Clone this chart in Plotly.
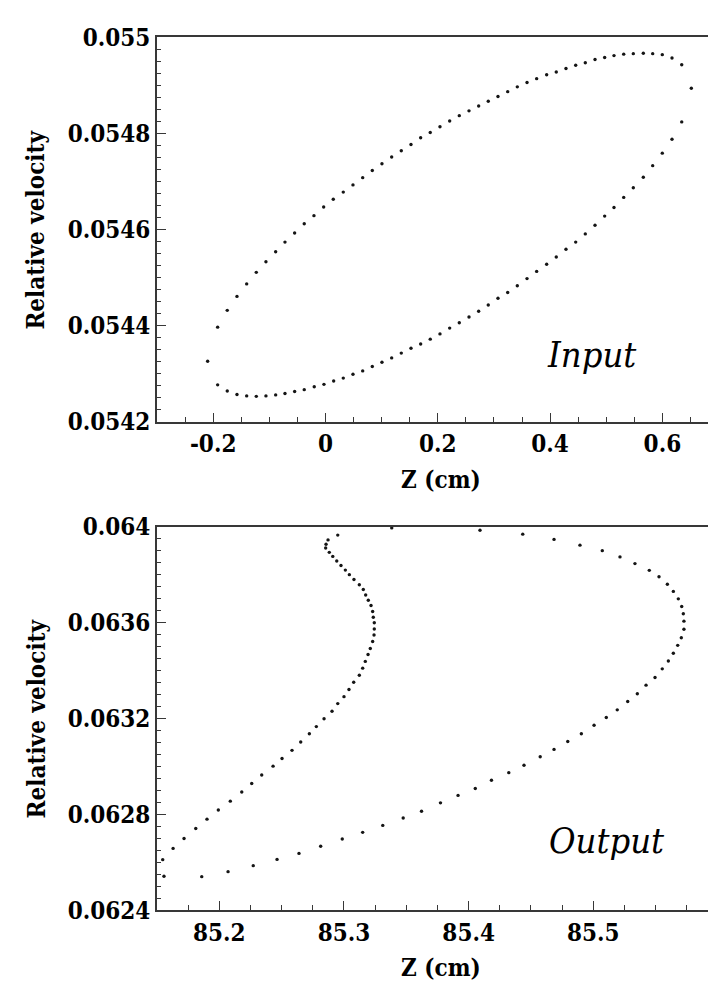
import plotly.graph_objects as go

# ---------------- data ----------------
z_in_upper = [-0.1920, -0.1749, -0.1576, -0.1403, -0.1232, -0.1060, -0.0887, -0.0721, -0.0549, -0.0378,
              -0.0205, -0.0032, 0.0139, 0.0317, 0.0490, 0.0663, 0.0834, 0.1006, 0.1179, 0.1350,
              0.1523, 0.1695, 0.1866, 0.2039, 0.2212, 0.2383, 0.2556, 0.2728, 0.2899, 0.3072,
              0.3245, 0.3416, 0.3589, 0.3761, 0.3939, 0.4110, 0.4283, 0.4456, 0.4627, 0.4800,
              0.4972, 0.5138, 0.5311, 0.5482, 0.5660, 0.5827, 0.5998, 0.6171, 0.6344, 0.6515]
v_in_upper = [0.054397, 0.054432, 0.054461, 0.054487, 0.054511, 0.054533, 0.054554, 0.054574, 0.054593, 0.054612,
              0.054629, 0.054647, 0.054663, 0.054678, 0.054693, 0.054708, 0.054723, 0.054737, 0.054751, 0.054764,
              0.054777, 0.054791, 0.054802, 0.054814, 0.054826, 0.054837, 0.054847, 0.054857, 0.054867, 0.054877,
              0.054887, 0.054897, 0.054906, 0.054914, 0.054922, 0.054928, 0.054935, 0.054942, 0.054947, 0.054954,
              0.054958, 0.054962, 0.054965, 0.054966, 0.054967, 0.054966, 0.054964, 0.054957, 0.054943, 0.054894]
z_in_lower = [0.6344, 0.6171, 0.5998, 0.5827, 0.5660, 0.5482, 0.5311, 0.5138, 0.4972, 0.4800,
              0.4627, 0.4456, 0.4283, 0.4110, 0.3939, 0.3761, 0.3589, 0.3416, 0.3245, 0.3072,
              0.2899, 0.2728, 0.2556, 0.2383, 0.2212, 0.2039, 0.1866, 0.1695, 0.1523, 0.1350,
              0.1179, 0.1006, 0.0834, 0.0663, 0.0490, 0.0317, 0.0146, -0.0027, -0.0200, -0.0378,
              -0.0549, -0.0721, -0.0887, -0.1060, -0.1232, -0.1403, -0.1576, -0.1749, -0.1920, -0.2098]
v_in_lower = [0.054824, 0.054788, 0.054759, 0.054733, 0.054709, 0.054687, 0.054667, 0.054646, 0.054628, 0.054609,
              0.054591, 0.054574, 0.054559, 0.054543, 0.054528, 0.054513, 0.054498, 0.054483, 0.054469, 0.054457,
              0.054443, 0.054430, 0.054418, 0.054406, 0.054395, 0.054383, 0.054372, 0.054362, 0.054353, 0.054343,
              0.054333, 0.054324, 0.054315, 0.054306, 0.054299, 0.054291, 0.054285, 0.054278, 0.054273, 0.054267,
              0.054263, 0.054259, 0.054256, 0.054254, 0.054253, 0.054254, 0.054257, 0.054264, 0.054277, 0.054326]

z_out_left = [85.2950, 85.2872, 85.2856, 85.2853, 85.2882, 85.2910, 85.2942, 85.2976, 85.3011, 85.3043,
              85.3080, 85.3123, 85.3155, 85.3174, 85.3195, 85.3217, 85.3230, 85.3235, 85.3243, 85.3243,
              85.3241, 85.3230, 85.3211, 85.3193, 85.3171, 85.3150, 85.3123, 85.3078, 85.3040, 85.3000,
              85.2950, 85.2904, 85.2840, 85.2778, 85.2722, 85.2653, 85.2583, 85.2503, 85.2431, 85.2340,
              85.2260, 85.2180, 85.2088, 85.1992, 85.1901, 85.1811, 85.1717, 85.1629, 85.1546, 85.1556]
v_out_left = [0.063965, 0.063945, 0.063927, 0.063911, 0.063893, 0.063876, 0.063857, 0.063838, 0.063819, 0.063800,
              0.063780, 0.063758, 0.063738, 0.063715, 0.063693, 0.063671, 0.063646, 0.063622, 0.063599, 0.063573,
              0.063548, 0.063521, 0.063492, 0.063467, 0.063438, 0.063410, 0.063380, 0.063351, 0.063321, 0.063291,
              0.063262, 0.063230, 0.063199, 0.063166, 0.063136, 0.063102, 0.063067, 0.063033, 0.063001, 0.062964,
              0.062929, 0.062893, 0.062855, 0.062818, 0.062780, 0.062741, 0.062699, 0.062658, 0.062611, 0.062542]
z_out_lower = [85.1859, 85.2070, 85.2272, 85.2463, 85.2639, 85.2813, 85.2986, 85.3150, 85.3311, 85.3475,
               85.3622, 85.3774, 85.3915, 85.4053, 85.4183, 85.4322, 85.4444, 85.4574, 85.4685, 85.4795,
               85.4904, 85.5006, 85.5104, 85.5192, 85.5276]
v_out_lower = [0.062540, 0.062561, 0.062586, 0.062612, 0.062637, 0.062667, 0.062697, 0.062725, 0.062754, 0.062785,
               0.062813, 0.062848, 0.062879, 0.062908, 0.062942, 0.062974, 0.063005, 0.063040, 0.063071, 0.063104,
               0.063136, 0.063172, 0.063204, 0.063236, 0.063271]
z_out_right = [85.5353, 85.5423, 85.5495, 85.5553, 85.5602, 85.5642, 85.5677, 85.5706, 85.5727, 85.5727,
               85.5722, 85.5709, 85.5682, 85.5642, 85.5594, 85.5527, 85.5449, 85.5334, 85.5214, 85.5072,
               85.4893, 85.4685, 85.4434, 85.4091, 85.3383]
v_out_right = [0.063303, 0.063339, 0.063371, 0.063407, 0.063440, 0.063472, 0.063505, 0.063537, 0.063572, 0.063606,
               0.063637, 0.063667, 0.063699, 0.063730, 0.063760, 0.063791, 0.063818, 0.063846, 0.063874, 0.063900,
               0.063923, 0.063947, 0.063969, 0.063985, 0.063995]

in_xticks = [-0.2, 0.0, 0.2, 0.4, 0.6]
in_xlabels = ["-0.2", "0", "0.2", "0.4", "0.6"]
in_yticks = [0.0542, 0.0544, 0.0546, 0.0548, 0.0550]
in_ylabels = ["0.0542", "0.0544", "0.0546", "0.0548", "0.055"]
out_xticks = [85.2, 85.3, 85.4, 85.5]
out_xlabels = ["85.2", "85.3", "85.4", "85.5"]
out_yticks = [0.0624, 0.0628, 0.0632, 0.0636, 0.0640]
out_ylabels = ["0.0624", "0.0628", "0.0632", "0.0636", "0.064"]

W, H = 708, 999
L, R = 157, 708
T1, B1 = 23, 419
T2, B2 = 527, 922


def fx(px):
    return px / W


def fy(py):
    return 1 - py / H


SERIF = "DejaVu Serif Condensed, DejaVu Serif"
LINE = "#383838"
DOT = "#151515"

fig = go.Figure()
fig.add_trace(go.Scatter(x=z_in_upper + z_in_lower, y=v_in_upper + v_in_lower,
                         mode="markers", marker=dict(size=3.4, color=DOT),
                         xaxis="x", yaxis="y", showlegend=False, hoverinfo="skip"))
fig.add_trace(go.Scatter(x=z_out_left + z_out_lower + z_out_right,
                         y=v_out_left + v_out_lower + v_out_right,
                         mode="markers", marker=dict(size=3.4, color=DOT),
                         xaxis="x2", yaxis="y2", showlegend=False, hoverinfo="skip"))

tickfont = dict(family=SERIF, size=24, color="black", weight="bold")
common = dict(showline=True, linecolor=LINE, linewidth=1.6, ticks="inside",
              tickcolor=LINE, tickwidth=1.4, showgrid=False, zeroline=False,
              tickfont=tickfont, tickmode="array", fixedrange=True)

fig.update_layout(
    width=W, height=H,
    margin=dict(l=0, r=0, t=0, b=0),
    paper_bgcolor="white", plot_bgcolor="white",
    xaxis=dict(common, domain=[fx(L), fx(R)], anchor="y", range=[-0.3, 0.6812],
               tickvals=in_xticks, ticktext=in_xlabels, ticklen=9, mirror=True,
               minor=dict(tickmode="linear", tick0=0, dtick=0.05, ticklen=5,
                          ticks="inside", tickcolor=LINE, tickwidth=1.2)),
    yaxis=dict(common, domain=[fy(B1), fy(T1)], anchor="x", range=[0.0542, 0.055],
               tickvals=in_yticks, ticktext=in_ylabels, ticklen=9,
               minor=dict(tickmode="linear", tick0=0.0542, dtick=0.000025, ticklen=4,
                          ticks="inside", tickcolor=LINE, tickwidth=1.2)),
    xaxis2=dict(common, domain=[fx(L), fx(R)], anchor="y2", range=[85.15, 85.592],
                tickvals=out_xticks, ticktext=out_xlabels, ticklen=9, mirror=True,
                minor=dict(tickmode="linear", tick0=85.0, dtick=0.025, ticklen=5,
                           ticks="inside", tickcolor=LINE, tickwidth=1.2)),
    yaxis2=dict(common, domain=[fy(B2), fy(T2)], anchor="x2", range=[0.0624, 0.064],
                tickvals=out_yticks, ticktext=out_ylabels, ticklen=9,
                minor=dict(tickmode="linear", tick0=0.0624, dtick=0.00005, ticklen=4,
                           ticks="inside", tickcolor=LINE, tickwidth=1.2)),
)

title_font = dict(family=SERIF, size=24, color="black", weight="bold")
label_font = dict(family=SERIF, size=36, color="black", style="italic")
annos = [
    dict(text="Relative velocity", x=fx(36), y=fy((T1 + B1) / 2), textangle=-90, font=title_font),
    dict(text="Relative velocity", x=fx(36), y=fy((T2 + B2) / 2), textangle=-90, font=title_font),
    dict(text="Z (cm)", x=fx(441), y=fy(478), font=title_font),
    dict(text="Z (cm)", x=fx(441), y=fy(981), font=title_font),
    dict(text="Input", x=fx(545), y=fy(350), xanchor="left", font=label_font),
    dict(text="Output", x=fx(547), y=fy(850), xanchor="left", font=label_font),
]
for a in annos:
    a.setdefault("xanchor", "center")
    a.update(xref="paper", yref="paper", yanchor="middle", showarrow=False)
fig.update_layout(annotations=annos)

fig.write_html("out.html")
